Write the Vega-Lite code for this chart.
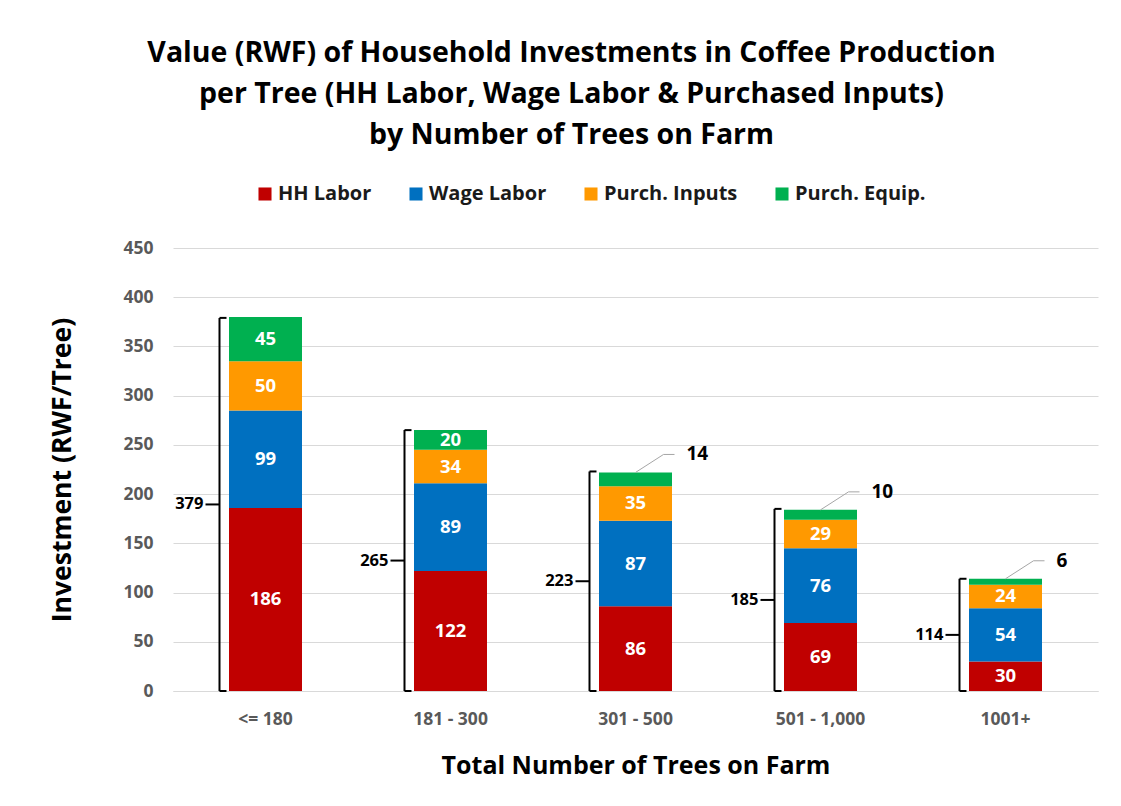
{
  "$schema": "https://vega.github.io/schema/vega-lite/v6.json",
  "width": 925,
  "height": 443,
  "autosize": {"type": "none"},
  "padding": {"left": 173, "top": 248, "right": 23, "bottom": 115},
  "background": "white",
  "title": {
    "text": ["Value (RWF) of Household Investments in Coffee Production", "per Tree (HH Labor, Wage Labor & Purchased Inputs)", "by Number of Trees on Farm"],
    "anchor": "middle",
    "frame": "group",
    "dx": -64,
    "offset": 35,
    "font": "Open Sans",
    "fontSize": 28.5,
    "fontWeight": "bold",
    "color": "black",
    "lineHeight": 41
  },
  "datasets": {
    "segs": [
      {"cat": "<= 180", "series": "HH Labor", "value": 186, "order": 1},
      {"cat": "<= 180", "series": "Wage Labor", "value": 99, "order": 2},
      {"cat": "<= 180", "series": "Purch. Inputs", "value": 50, "order": 3},
      {"cat": "<= 180", "series": "Purch. Equip.", "value": 45, "order": 4},
      {"cat": "181 - 300", "series": "HH Labor", "value": 122, "order": 1},
      {"cat": "181 - 300", "series": "Wage Labor", "value": 89, "order": 2},
      {"cat": "181 - 300", "series": "Purch. Inputs", "value": 34, "order": 3},
      {"cat": "181 - 300", "series": "Purch. Equip.", "value": 20, "order": 4},
      {"cat": "301 - 500", "series": "HH Labor", "value": 86, "order": 1},
      {"cat": "301 - 500", "series": "Wage Labor", "value": 87, "order": 2},
      {"cat": "301 - 500", "series": "Purch. Inputs", "value": 35, "order": 3},
      {"cat": "301 - 500", "series": "Purch. Equip.", "value": 14, "order": 4},
      {"cat": "501 - 1,000", "series": "HH Labor", "value": 69, "order": 1},
      {"cat": "501 - 1,000", "series": "Wage Labor", "value": 76, "order": 2},
      {"cat": "501 - 1,000", "series": "Purch. Inputs", "value": 29, "order": 3},
      {"cat": "501 - 1,000", "series": "Purch. Equip.", "value": 10, "order": 4},
      {"cat": "1001+", "series": "HH Labor", "value": 30, "order": 1},
      {"cat": "1001+", "series": "Wage Labor", "value": 54, "order": 2},
      {"cat": "1001+", "series": "Purch. Inputs", "value": 24, "order": 3},
      {"cat": "1001+", "series": "Purch. Equip.", "value": 6, "order": 4}
    ],
    "totals": [
      {"cat": "<= 180", "total": 379},
      {"cat": "181 - 300", "total": 265},
      {"cat": "301 - 500", "total": 223},
      {"cat": "501 - 1,000", "total": 185},
      {"cat": "1001+", "total": 114}
    ]
  },
  "config": {
    "view": {"stroke": null},
    "font": "Open Sans",
    "axis": {"labelFont": "Open Sans", "titleFont": "Open Sans"},
    "legend": {"labelFont": "Open Sans"}
  },
  "layer": [
    {
      "data": {"name": "segs"},
      "transform": [
        {"stack": "value", "groupby": ["cat"], "sort": [{"field": "order"}], "as": ["v0", "v1"]},
        {"calculate": "(datum.v0 + datum.v1) / 2", "as": "mid"}
      ],
      "layer": [
        {
          "mark": {"type": "bar", "size": 73},
          "encoding": {
            "x": {
              "field": "cat", "type": "nominal",
              "sort": ["<= 180", "181 - 300", "301 - 500", "501 - 1,000", "1001+"],
              "scale": {"type": "band", "paddingInner": 0, "paddingOuter": 0},
              "axis": {
                "title": "Total Number of Trees on Farm",
                "titleFontSize": 25, "titleFontWeight": "bold", "titleColor": "black", "titlePadding": 26,
                "labelAngle": 0, "labelFontSize": 17.5, "labelFontWeight": "bold", "labelColor": "#595959", "labelPadding": 19,
                "ticks": false, "domain": true, "domainColor": "#d9d9d9", "grid": false
              }
            },
            "y": {
              "field": "v0", "type": "quantitative",
              "scale": {"domain": [0, 450], "nice": false},
              "axis": {
                "title": "Investment (RWF/Tree)",
                "values": [0, 50, 100, 150, 200, 250, 300, 350, 400, 450],
                "titleFontSize": 26.5, "titleFontWeight": "bold", "titleColor": "black", "titlePadding": 46,
                "labelFontSize": 17.5, "labelFontWeight": "bold", "labelColor": "#595959", "labelPadding": 20,
                "ticks": false, "domain": false, "grid": true, "gridColor": "#d9d9d9"
              }
            },
            "y2": {"field": "v1"},
            "color": {
              "field": "series", "type": "nominal",
              "scale": {
                "domain": ["HH Labor", "Wage Labor", "Purch. Inputs", "Purch. Equip."],
                "range": ["#C00000", "#0070C0", "#FF9900", "#00B050"]
              },
              "legend": {
                "title": null, "orient": "none", "direction": "horizontal",
                "legendX": 82, "legendY": -64,
                "symbolType": "square", "symbolSize": 170, "symbolStrokeWidth": 0,
                "labelFontSize": 20, "labelFontWeight": "bold", "labelColor": "#1a1a1a",
                "labelOffset": 3, "columnPadding": 34
              }
            }
          }
        },
        {
          "transform": [{"filter": "datum.value >= 15"}],
          "mark": {"type": "text", "color": "white", "fontWeight": "bold", "fontSize": 18.5, "baseline": "middle"},
          "encoding": {
            "x": {"field": "cat", "type": "nominal", "sort": ["<= 180", "181 - 300", "301 - 500", "501 - 1,000", "1001+"], "bandPosition": 0.5},
            "y": {"field": "mid", "type": "quantitative"},
            "text": {"field": "value"}
          }
        },
        {
          "transform": [{"filter": "datum.value < 15"}],
          "mark": {"type": "rule", "color": "#a6a6a6", "strokeWidth": 1, "xOffset": 0, "x2Offset": 28, "yOffset": 0, "y2Offset": -18},
          "encoding": {
            "x": {"field": "cat", "type": "nominal", "sort": ["<= 180", "181 - 300", "301 - 500", "501 - 1,000", "1001+"], "bandPosition": 0.5},
            "x2": {"field": "cat", "bandPosition": 0.5},
            "y": {"field": "v1", "type": "quantitative"},
            "y2": {"field": "v1"}
          }
        },
        {
          "transform": [{"filter": "datum.value < 15"}],
          "mark": {"type": "rule", "color": "#a6a6a6", "strokeWidth": 1, "xOffset": 28, "x2Offset": 39, "yOffset": -18, "y2Offset": -18},
          "encoding": {
            "x": {"field": "cat", "type": "nominal", "sort": ["<= 180", "181 - 300", "301 - 500", "501 - 1,000", "1001+"], "bandPosition": 0.5},
            "x2": {"field": "cat", "bandPosition": 0.5},
            "y": {"field": "v1", "type": "quantitative"},
            "y2": {"field": "v1"}
          }
        },
        {
          "transform": [{"filter": "datum.value < 15"}],
          "mark": {"type": "text", "color": "black", "fontWeight": "bold", "fontSize": 19, "align": "left", "baseline": "middle", "xOffset": 51, "yOffset": -18},
          "encoding": {
            "x": {"field": "cat", "type": "nominal", "sort": ["<= 180", "181 - 300", "301 - 500", "501 - 1,000", "1001+"], "bandPosition": 0.5},
            "y": {"field": "v1", "type": "quantitative"},
            "text": {"field": "value"}
          }
        }
      ]
    },
    {
      "data": {"name": "totals"},
      "transform": [{"calculate": "datum.total / 2", "as": "half"}],
      "layer": [
        {
          "mark": {"type": "rule", "color": "black", "strokeWidth": 2, "xOffset": -46},
          "encoding": {
            "x": {"field": "cat", "type": "nominal", "sort": ["<= 180", "181 - 300", "301 - 500", "501 - 1,000", "1001+"], "bandPosition": 0.5},
            "y": {"field": "total", "type": "quantitative"},
            "y2": {"datum": 0}
          }
        },
        {
          "mark": {"type": "rule", "color": "black", "strokeWidth": 2, "xOffset": -46, "x2Offset": -39},
          "encoding": {
            "x": {"field": "cat", "type": "nominal", "sort": ["<= 180", "181 - 300", "301 - 500", "501 - 1,000", "1001+"], "bandPosition": 0.5},
            "x2": {"field": "cat", "bandPosition": 0.5},
            "y": {"field": "total", "type": "quantitative"},
            "y2": {"field": "total"}
          }
        },
        {
          "mark": {"type": "rule", "color": "black", "strokeWidth": 2, "xOffset": -46, "x2Offset": -39},
          "encoding": {
            "x": {"field": "cat", "type": "nominal", "sort": ["<= 180", "181 - 300", "301 - 500", "501 - 1,000", "1001+"], "bandPosition": 0.5},
            "x2": {"field": "cat", "bandPosition": 0.5},
            "y": {"datum": 0, "type": "quantitative"},
            "y2": {"datum": 0}
          }
        },
        {
          "mark": {"type": "rule", "color": "black", "strokeWidth": 2, "xOffset": -60, "x2Offset": -46},
          "encoding": {
            "x": {"field": "cat", "type": "nominal", "sort": ["<= 180", "181 - 300", "301 - 500", "501 - 1,000", "1001+"], "bandPosition": 0.5},
            "x2": {"field": "cat", "bandPosition": 0.5},
            "y": {"field": "half", "type": "quantitative"},
            "y2": {"field": "half"}
          }
        },
        {
          "mark": {"type": "text", "color": "black", "fontWeight": "bold", "fontSize": 16.5, "align": "right", "baseline": "middle", "xOffset": -62},
          "encoding": {
            "x": {"field": "cat", "type": "nominal", "sort": ["<= 180", "181 - 300", "301 - 500", "501 - 1,000", "1001+"], "bandPosition": 0.5},
            "y": {"field": "half", "type": "quantitative"},
            "text": {"field": "total"}
          }
        }
      ]
    }
  ]
}
